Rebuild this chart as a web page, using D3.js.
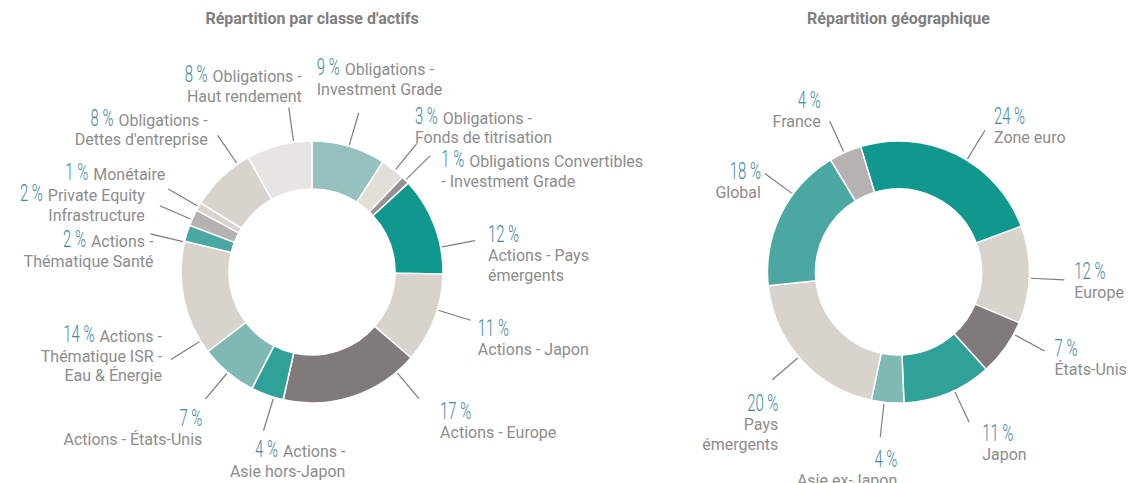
<!DOCTYPE html>
<html>
<head>
<meta charset="utf-8">
<script src="https://cdn.jsdelivr.net/npm/d3@7"></script>
<style>
  html, body { margin: 0; padding: 0; background: #fff; }
  svg { display: block; }
  .title { font-family: Roboto, sans-serif; font-weight: bold; font-size: 16px; fill: #7f7f7f; }
  .lbl   { font-family: Roboto, sans-serif; font-size: 16px; fill: #8c8c8c; }
  .pct   { font-family: Roboto, sans-serif; font-weight: 300; font-size: 24px; fill: #4287a6; }
  .lead  { stroke: #7d7d7d; stroke-width: 1.2; fill: none; }
</style>
</head>
<body>
<svg id="chart" width="1128" height="483"></svg>
<script>
// ── Data ──────────────────────────────────────────────────────────────────
const assetLabels = [
  'Obligations -\nInvestment Grade',
  'Obligations -\nFonds de titrisation',
  'Obligations Convertibles\n- Investment Grade',
  'Actions - Pays\némergents',
  'Actions - Japon',
  'Actions - Europe',
  'Actions -\nAsie hors-Japon',
  'Actions - États-Unis',
  'Actions -\nThématique ISR -\nEau & Énergie',
  'Actions -\nThématique Santé',
  'Private Equity\nInfrastructure',
  'Monétaire',
  'Obligations -\nDettes d\'entreprise',
  'Obligations -\nHaut rendement',
];
const assetValues = [9, 3, 1, 12, 11, 17, 4, 7, 14, 2, 2, 1, 8, 8];

const geoLabels = [
  'Zone euro', 'Europe', 'États-Unis', 'Japon',
  'Asie ex-Japon', 'Pays\némergents', 'Global', 'France',
];
const geoValues = [24, 12, 7, 11, 4, 20, 18, 4];

// ── Styles ────────────────────────────────────────────────────────────────
const TEAL = '#10988e', TEAL2 = '#2fa198', TEAL3 = '#4ba7a1', TEAL_L = '#80b8b3',
      TEAL_XL = '#96c1be', BEIGE = '#d8d3cd', BEIGE_L = '#e2dfd9', PALE = '#e7e5e1',
      GREY_D = '#807a7a', GREY = '#969292', GREY_L = '#b5b2b1';

const assetColors = [TEAL_XL, BEIGE_L, GREY, TEAL, BEIGE, GREY_D, TEAL2, TEAL_L,
                     BEIGE, TEAL3, GREY_L, BEIGE, BEIGE, PALE];
const geoColors = [TEAL, BEIGE, GREY_D, TEAL2, TEAL_L, BEIGE, TEAL3, GREY_L];

// label layout: [angle shift (deg), anchor, dx, dy, percent inline?]
const assetLayout = [
  [0, 'start', -42, -43, true],
  [1, 'start', -2, -25, true],
  [0, 'start', 11, 6, true],
  [10, 'start', 13, -7, false],
  [-4, 'start', 7, 7, false],
  [-22, 'start', 21, 12, false],
  [-3, 'end', 82, 21, true],
  [0, 'end', -3, 18, false],
  [-20, 'end', -9, -23, true],
  [-4, 'end', 3, 8, true],
  [-1, 'end', -15, -10, true],
  [0, 'end', -3, -15, true],
  [9, 'end', -10, -15, true],
  [6.5, 'end', 13, -31, true],
];
const geoLayout = [
  [5, 'start', 9, -15, false],
  [1.5, 'start', 10, -9, false],
  [-7, 'start', 10, -3, false],
  [-3, 'start', 13, 10, false],
  [1.5, 'end', 17, 22, false],
  [1.5, 'end', 6, 23, false],
  [10, 'end', -4, -3, false],
  [-0.5, 'end', -9, -21, false],
];

const R_OUT = 131, R_IN = 83, LEAD_IN = 1.5, LEAD_OUT = 35;
const LINE_H = 19.5, PCT_GAP = 22, PCT_SX = 0.62;

const svg = d3.select('#chart');

function drawDonut({ cx, cy, title, labels, values, colors, startDeg, layout }) {
  svg.append('text').attr('class', 'title')
    .attr('x', cx).attr('y', 24).attr('text-anchor', 'middle').text(title);

  const g = svg.append('g').attr('transform', `translate(${cx},${cy})`);
  const a0 = startDeg * Math.PI / 180;
  const pie = d3.pie().sort(null).value(d => d.value)
    .startAngle(a0).endAngle(a0 + 2 * Math.PI);
  const arcs = pie(labels.map((label, i) => ({
    label, value: values[i], color: colors[i], lay: layout[i],
  })));
  const arc = d3.arc().innerRadius(R_IN).outerRadius(R_OUT);

  g.append('g').selectAll('path')
    .data(arcs).join('path')
    .attr('d', arc)
    .attr('fill', d => d.data.color)
    .attr('stroke', '#fff')
    .attr('stroke-width', 1.5);

  const ang = d => (d.startAngle + d.endAngle) / 2 + d.data.lay[0] * Math.PI / 180;
  const pt = (a, r) => [r * Math.sin(a), -r * Math.cos(a)];

  g.append('g').selectAll('line')
    .data(arcs).join('line')
    .attr('class', 'lead')
    .attr('x1', d => pt(ang(d), R_OUT + LEAD_IN)[0])
    .attr('y1', d => pt(ang(d), R_OUT + LEAD_IN)[1])
    .attr('x2', d => pt(ang(d), R_OUT + LEAD_OUT)[0])
    .attr('y2', d => pt(ang(d), R_OUT + LEAD_OUT)[1]);

  arcs.forEach(d => {
    const [, anchor, dx, dy, inline] = d.data.lay;
    const [ex, ey] = pt(ang(d), R_OUT + LEAD_OUT);
    const lg = g.append('g').attr('transform', `translate(${ex + dx},${ey + dy})`);
    const lines = d.data.label.split('\n');
    const pctText = d.data.value + '\u00a0%';

    if (inline) {
      const t0 = lg.append('text').attr('class', 'lbl')
        .attr('y', 5.5).attr('text-anchor', anchor).text(lines[0]);
      const p = lg.append('text').attr('class', 'pct').attr('text-anchor', anchor).text(pctText);
      const pw = p.node().getComputedTextLength() * PCT_SX;
      const lw = t0.node().getComputedTextLength();
      const px = anchor === 'start' ? 0 : -(lw + 5);
      if (anchor === 'start') t0.attr('x', pw + 5);
      p.attr('transform', `translate(${px},5.5) scale(${PCT_SX},1)`);
      lines.slice(1).forEach((s, i) => {
        lg.append('text').attr('class', 'lbl')
          .attr('y', 5.5 + (i + 1) * LINE_H).attr('text-anchor', anchor).text(s);
      });
    } else {
      lg.append('text').attr('class', 'pct').attr('text-anchor', anchor)
        .attr('transform', `translate(0,8.5) scale(${PCT_SX},1)`).text(pctText);
      lines.forEach((s, i) => {
        lg.append('text').attr('class', 'lbl')
          .attr('y', PCT_GAP + 5.5 + i * LINE_H).attr('text-anchor', anchor).text(s);
      });
    }
  });
}

drawDonut({
  cx: 312, cy: 272, title: 'Répartition par classe d\'actifs',
  labels: assetLabels, values: assetValues, colors: assetColors,
  startDeg: 0, layout: assetLayout,
});
drawDonut({
  cx: 898.5, cy: 272, title: 'Répartition géographique',
  labels: geoLabels, values: geoValues, colors: geoColors,
  startDeg: -16.8, layout: geoLayout,
});
</script>
</body>
</html>
